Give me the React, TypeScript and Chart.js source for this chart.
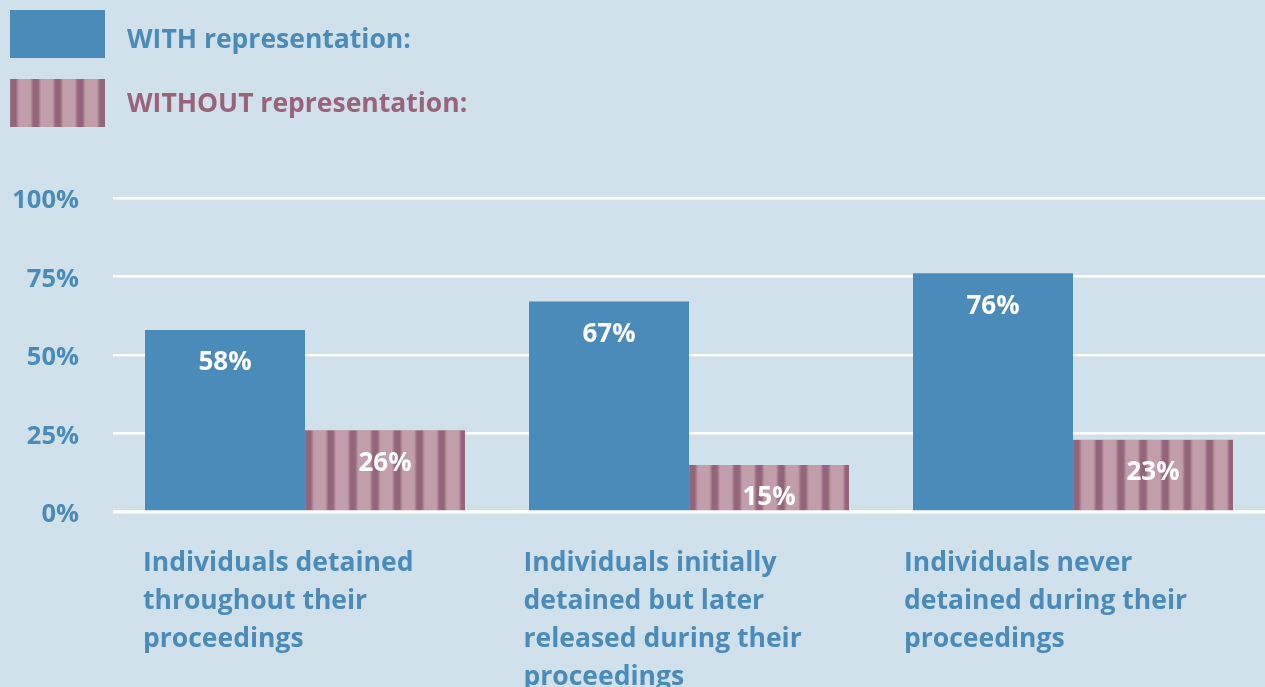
import React, { useEffect, useRef } from "react";
import { Chart, registerables } from "chart.js";

Chart.register(...registerables);

const categories: string[][] = [
  ["Individuals detained", "throughout their", "proceedings"],
  ["Individuals initially", "detained but later", "released during their", "proceedings"],
  ["Individuals never", "detained during their", "proceedings"],
];
const withRep: number[] = [58, 67, 76];
const withoutRep: number[] = [26, 15, 23];
const yTicks: number[] = [0, 25, 50, 75, 100];
const seriesNames: string[] = ["WITH representation:", "WITHOUT representation:"];

const BG = "#d1e1ec";
const BLUE = "#4a8bb9";
const PINK_LIGHT = "#c29eab";
const MAUVE_TEXT = "#9a6379";
const FONT = "'Open Sans', sans-serif";

function drawStripes(ctx: CanvasRenderingContext2D, left: number, top: number, w: number, h: number) {
  ctx.save();
  ctx.beginPath();
  ctx.rect(left, top, w, h);
  ctx.clip();
  ctx.fillStyle = PINK_LIGHT;
  ctx.fillRect(left, top, w, h);
  const period = 22.2;
  for (let sx = left + 3.5; sx < left + w + 6; sx += period) {
    const g = ctx.createLinearGradient(sx - 5.5, 0, sx + 5.5, 0);
    g.addColorStop(0, "rgba(147,101,122,0)");
    g.addColorStop(0.3, "rgba(147,101,122,1)");
    g.addColorStop(0.7, "rgba(147,101,122,1)");
    g.addColorStop(1, "rgba(147,101,122,0)");
    ctx.fillStyle = g;
    ctx.fillRect(sx - 5.5, top, 11, h);
  }
  ctx.restore();
}

const customPlugin = {
  id: "custom",
  beforeDraw(chart: any) {
    const ctx = chart.ctx;
    ctx.save();
    ctx.fillStyle = BG;
    ctx.fillRect(0, 0, chart.width, chart.height);
    ctx.restore();
  },
  afterDatasetsDraw(chart: any) {
    const ctx: CanvasRenderingContext2D = chart.ctx;
    const meta1 = chart.getDatasetMeta(1);
    meta1.data.forEach((bar: any) => {
      const left = bar.x - bar.width / 2;
      const top = Math.min(bar.y, bar.base);
      const h = Math.abs(bar.base - bar.y);
      drawStripes(ctx, left, top, bar.width, h);
    });
    ctx.save();
    ctx.fillStyle = "#ffffff";
    ctx.font = `bold 26px ${FONT}`;
    ctx.textAlign = "center";
    ctx.textBaseline = "middle";
    [0, 1].forEach((di) => {
      const meta = chart.getDatasetMeta(di);
      const vals = di === 0 ? withRep : withoutRep;
      meta.data.forEach((bar: any, i: number) => {
        ctx.fillText(vals[i] + "%", bar.x, bar.y + 33);
      });
    });
    ctx.restore();

    const xs = chart.scales.x;
    ctx.save();
    ctx.fillStyle = BLUE;
    ctx.font = `bold 26.5px ${FONT}`;
    ctx.textAlign = "left";
    ctx.textBaseline = "middle";
    categories.forEach((lines, i) => {
      const cx = xs.getPixelForValue(i);
      lines.forEach((ln, j) => {
        ctx.fillText(ln, cx - 162 - i * 3.5, 563 + j * 38);
      });
    });
    ctx.restore();

    ctx.save();
    ctx.fillStyle = BLUE;
    ctx.fillRect(10, 10, 95, 48);
    drawStripes(ctx, 10, 79, 95, 48);
    ctx.font = `bold 26.5px ${FONT}`;
    ctx.textAlign = "left";
    ctx.textBaseline = "middle";
    ctx.fillStyle = BLUE;
    ctx.fillText(seriesNames[0], 127, 40);
    ctx.fillStyle = MAUVE_TEXT;
    ctx.fillText(seriesNames[1], 127, 104);
    ctx.restore();
  },
};

export default function App() {
  const ref = useRef<HTMLCanvasElement>(null);
  useEffect(() => {
    document.body.style.margin = "0";
    document.body.style.background = BG;
    const chart = new Chart(ref.current!, {
      type: "bar",
      data: {
        labels: categories.map((c) => c.join(" ")),
        datasets: [
          { label: seriesNames[0], data: withRep, backgroundColor: BLUE, borderWidth: 0 },
          { label: seriesNames[1], data: withoutRep, backgroundColor: PINK_LIGHT, borderWidth: 0 },
        ],
      },
      options: {
        animation: false,
        responsive: false,
        maintainAspectRatio: false,
        layout: { padding: { top: 198, bottom: 175, left: 0, right: 0 } },
        datasets: { bar: { categoryPercentage: 320 / 384, barPercentage: 1 } },
        plugins: { legend: { display: false }, tooltip: { enabled: false } },
        scales: {
          x: { display: false },
          y: {
            min: 0,
            max: 100,
            afterBuildTicks: (scale: any) => {
              scale.ticks = yTicks.map((v) => ({ value: v }));
            },
            afterFit: (scale: any) => {
              scale.width = 113;
            },
            ticks: {
              callback: (v: any) => v + "%",
              color: BLUE,
              font: { family: FONT, weight: "bold", size: 25.5 },
              padding: 34,
              labelOffset: 3,
            },
            grid: {
              color: "#ffffff",
              lineWidth: (c: any) => (c.tick && c.tick.value === 0 ? 3.5 : 2.5),
              drawTicks: false,
            },
            border: { display: false },
          },
        },
      },
      plugins: [customPlugin],
    } as any);
    return () => chart.destroy();
  }, []);
  return (
    <div style={{ width: 1265, height: 687 }}>
      <canvas ref={ref} width={1265} height={687} style={{ display: "block" }} />
    </div>
  );
}
